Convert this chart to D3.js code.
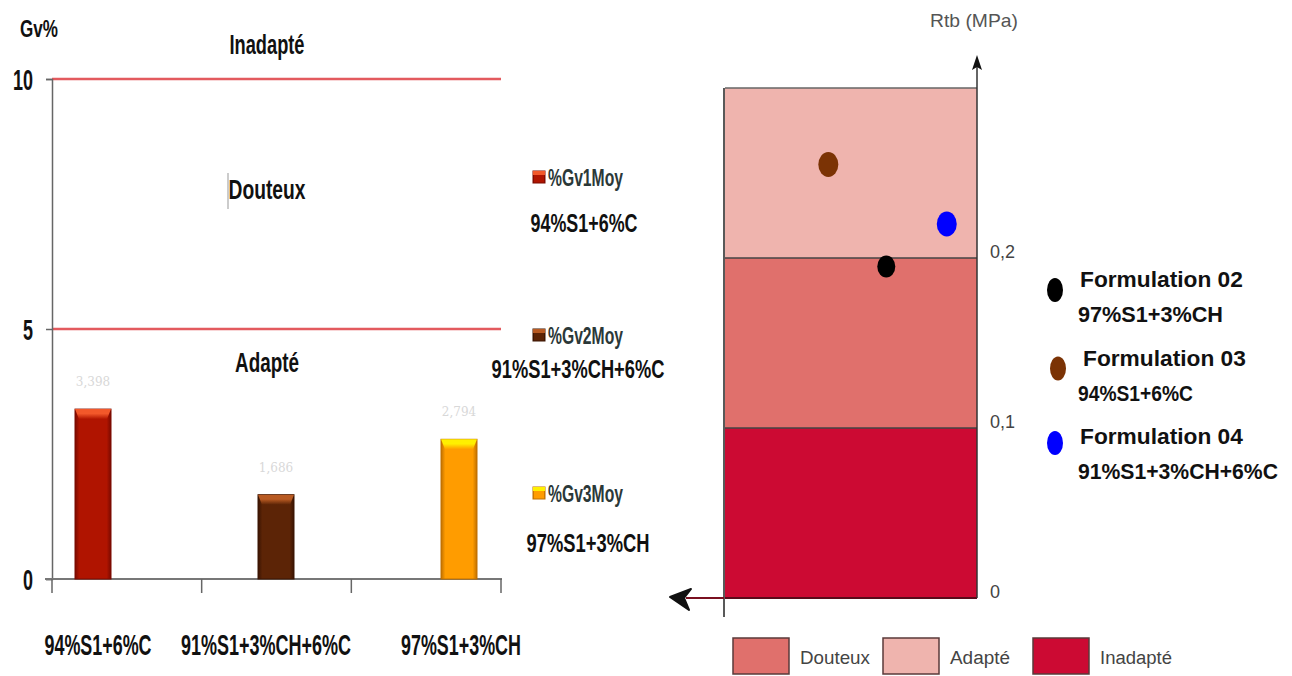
<!DOCTYPE html>
<html>
<head>
<meta charset="utf-8">
<script src="https://cdn.jsdelivr.net/npm/d3@7/dist/d3.min.js"></script>
<style>
  body { margin: 0; background: #fff; }
  svg { display: block; }
</style>
</head>
<body>
<svg id="chart" width="1292" height="676"></svg>
<script>
// ---- left chart data (Gv%) ----
var mixes = ["94%S1+6%C", "91%S1+3%CH+6%C", "97%S1+3%CH"];
var gvSeries = ["%Gv1Moy", "%Gv2Moy", "%Gv3Moy"];
var gvValues = [3.398, 1.686, 2.794];
var gvTicks = [0, 5, 10];
var gvLimits = [5, 10];
var gvZoneNames = ["Inadapté", "Douteux", "Adapté"];
var gvZoneAt = [10.7, 7.8, 4.35];

// ---- right chart data (Rtb) ----
var rtbZoneNames = ["Inadapté", "Douteux", "Adapté"];
var rtbZoneFrom = [0, 0.1, 0.2];
var rtbZoneTo = [0.1, 0.2, 0.3];
var rtbTicks = [0, 0.1, 0.2];
var formulations = ["Formulation 02", "Formulation 03", "Formulation  04"];
var formMixes = ["97%S1+3%CH", "94%S1+6%C", "91%S1+3%CH+6%C"];
var rtbValues = [0.195, 0.255, 0.220];
var rtbSpread = [0.64, 0.41, 0.88];   // horizontal place of each point inside the box
var legendOrder = ["Douteux", "Adapté", "Inadapté"];

var barMain = ["#b01400", "#5c2406", "#ff9c00"];
var barTop = ["#f2582a", "#b85a22", "#fff000"];
var barEdge = ["#7a0a00", "#3a1402", "#c07000"];
var zoneColor = { "Inadapté": "#cc0a33", "Douteux": "#e0706c", "Adapté": "#efb4ae" };
var dotColor = ["#000000", "#7b3305", "#0000ff"];

var svg = d3.select("#chart");
var defs = svg.append("defs");

// squeeze a text horizontally to a given width (the source picture is stretched)
function squeeze(sel, w) {
  sel.each(function (d, i) {
    var t = d3.select(this);
    var x = +t.attr("x") || 0, y = +t.attr("y") || 0;
    var target = typeof w === "function" ? w(d, i) : w;
    var s = target / this.getComputedTextLength();
    t.attr("x", 0).attr("y", 0)
      .attr("transform", "translate(" + x + "," + y + ") scale(" + s + ",1)");
  });
}

var font = "'Liberation Sans', Arial, sans-serif";

// ================= LEFT CHART =================
var y = d3.scaleLinear().domain([0, 10]).range([579, 79]);
var xBand = d3.scaleBand().domain(mixes).range([52, 501]);
var xBar = d3.scalePoint().domain(mixes).range([93, 459]);
var barW = 36;

var left = svg.append("g");

// limit lines
left.selectAll("line.limit")
  .data(gvLimits)
  .enter().append("line")
  .attr("class", "limit")
  .attr("x1", 52).attr("x2", 501)
  .attr("y1", d => y(d)).attr("y2", d => y(d))
  .attr("stroke", "#e35a5e")
  .attr("stroke-width", 2.5);

// y axis
var yAxis = left.append("g")
  .attr("transform", "translate(52,0)")
  .call(d3.axisLeft(y).tickValues(gvTicks).tickSize(6).tickPadding(13).tickFormat(d3.format("d")));
yAxis.select(".domain").attr("stroke", "#666").attr("stroke-width", 1.5);
yAxis.selectAll(".tick line").attr("stroke", "#666").attr("stroke-width", 1.5);
yAxis.selectAll(".tick text")
  .attr("fill", "#111")
  .style("font-family", font)
  .style("font-weight", "bold")
  .style("font-size", "29px")
  .attr("dy", null)
  .attr("y", 10)
  .attr("text-anchor", "end");
squeeze(yAxis.selectAll(".tick text"), d => d === 10 ? 20 : 10);

// x axis line and ticks at band edges
left.append("line")
  .attr("x1", 45).attr("x2", 502)
  .attr("y1", y(0)).attr("y2", y(0))
  .attr("stroke", "#777").attr("stroke-width", 2);
var edges = mixes.map(d => xBand(d)).concat([xBand.range()[1]]);
left.selectAll("line.xtick")
  .data(edges)
  .enter().append("line")
  .attr("class", "xtick")
  .attr("x1", d => d).attr("x2", d => d)
  .attr("y1", y(0)).attr("y2", y(0) + 14)
  .attr("stroke", "#666").attr("stroke-width", 1.5);

// x labels
var labW = [107, 170, 120];
squeeze(left.selectAll("text.xlab")
  .data(mixes)
  .enter().append("text")
  .attr("class", "xlab")
  .attr("x", (d, i) => xBar(d) + [5, -10, 2][i])
  .attr("y", 655)
  .attr("text-anchor", "middle")
  .style("font-family", font)
  .style("font-weight", "bold")
  .style("font-size", "30px")
  .attr("fill", "#111")
  .text(d => d), (d, i) => labW[i]);

// gradients for bars
mixes.forEach(function (m, i) {
  var gs = defs.append("linearGradient").attr("id", "side" + i)
    .attr("x1", "0").attr("x2", "1").attr("y1", "0").attr("y2", "0");
  gs.append("stop").attr("offset", "0").attr("stop-color", barEdge[i]);
  gs.append("stop").attr("offset", "0.12").attr("stop-color", barMain[i]);
  gs.append("stop").attr("offset", "0.88").attr("stop-color", barMain[i]);
  gs.append("stop").attr("offset", "1").attr("stop-color", barEdge[i]);
  var gt = defs.append("linearGradient").attr("id", "top" + i)
    .attr("x1", "0").attr("x2", "0").attr("y1", "0").attr("y2", "1");
  gt.append("stop").attr("offset", "0").attr("stop-color", barTop[i]);
  gt.append("stop").attr("offset", "0.45").attr("stop-color", barTop[i]);
  gt.append("stop").attr("offset", "1").attr("stop-color", barMain[i]);
});

var bars = left.selectAll("g.bar")
  .data(gvValues)
  .enter().append("g")
  .attr("class", "bar");

bars.append("rect")
  .attr("x", (d, i) => xBar(mixes[i]) - barW / 2)
  .attr("y", d => y(d))
  .attr("width", barW)
  .attr("height", d => y(0) - y(d))
  .attr("fill", (d, i) => "url(#side" + i + ")")
  .attr("stroke", (d, i) => barEdge[i])
  .attr("stroke-width", 1);

bars.append("path")
  .attr("d", function (d, i) {
    var x0 = xBar(mixes[i]) - barW / 2, x1 = x0 + barW, t = y(d);
    return "M" + x0 + "," + t + "L" + x1 + "," + t + "L" + (x1 - 4) + "," + (t + 10) + "L" + (x0 + 4) + "," + (t + 10) + "Z";
  })
  .attr("fill", (d, i) => "url(#top" + i + ")");

// faint value labels
bars.append("text")
  .attr("x", (d, i) => xBar(mixes[i]))
  .attr("y", d => y(d) - 23)
  .attr("text-anchor", "middle")
  .style("font-family", "'DejaVu Serif', serif")
  .style("font-size", "12px")
  .attr("fill", "#d8d8d8")
  .text(d => d3.format(".3f")(d).replace(".", ","));

// zone labels
var zoneW = [75, 77, 64];
squeeze(left.selectAll("text.zone")
  .data(gvZoneNames)
  .enter().append("text")
  .attr("class", "zone")
  .attr("x", 267)
  .attr("y", (d, i) => y(gvZoneAt[i]) + 10)
  .attr("text-anchor", "middle")
  .style("font-family", font)
  .style("font-weight", "bold")
  .style("font-size", "27px")
  .attr("fill", "#111")
  .text(d => d), (d, i) => zoneW[i]);
left.append("line")
  .attr("x1", 228).attr("x2", 228).attr("y1", 173).attr("y2", 209)
  .attr("stroke", "#999").attr("stroke-width", 1);

// Gv% title
squeeze(left.append("text")
  .attr("x", 20).attr("y", 37)
  .style("font-family", font)
  .style("font-weight", "bold")
  .style("font-size", "24px")
  .attr("fill", "#111")
  .text("Gv%"), 38);

// left legend
var legY = d3.scalePoint().domain(gvSeries).range([177, 493]);
var legSub = [222, 368, 542];
var legSubX = [584, 578, 588];
var legSubW = [107, 173, 123];
var leg = left.selectAll("g.leg")
  .data(gvSeries)
  .enter().append("g").attr("class", "leg");
leg.append("rect")
  .attr("x", 533).attr("y", d => legY(d) - 6)
  .attr("width", 12).attr("height", 12)
  .attr("fill", (d, i) => "url(#side" + i + ")")
  .attr("stroke", (d, i) => barEdge[i]);
leg.append("rect")
  .attr("x", 533).attr("y", d => legY(d) - 6)
  .attr("width", 12).attr("height", 4)
  .attr("fill", (d, i) => barTop[i]);
squeeze(leg.append("text")
  .attr("x", 548).attr("y", d => legY(d) + 9)
  .style("font-family", font)
  .style("font-weight", "bold")
  .style("font-size", "24px")
  .attr("fill", "#2b3838")
  .text(d => d), 75);
squeeze(leg.append("text")
  .attr("x", (d, i) => legSubX[i])
  .attr("y", (d, i) => legSub[i] + 10)
  .attr("text-anchor", "middle")
  .style("font-family", font)
  .style("font-weight", "bold")
  .style("font-size", "26px")
  .attr("fill", "#111")
  .text((d, i) => mixes[i]), (d, i) => legSubW[i]);

// ================= RIGHT CHART =================
var yr = d3.scaleLinear().domain([0, 0.3]).range([598, 88]);
var xr = d3.scaleLinear().domain([0, 1]).range([725, 977]);
var right = svg.append("g");

right.selectAll("rect.zone")
  .data(rtbZoneNames)
  .enter().append("rect")
  .attr("class", "zone")
  .attr("x", xr(0))
  .attr("y", (d, i) => yr(rtbZoneTo[i]))
  .attr("width", xr(1) - xr(0))
  .attr("height", (d, i) => yr(rtbZoneFrom[i]) - yr(rtbZoneTo[i]))
  .attr("fill", d => zoneColor[d]);

// zone boundaries
right.selectAll("line.bound")
  .data(rtbZoneTo)
  .enter().append("line")
  .attr("class", "bound")
  .attr("x1", xr(0)).attr("x2", xr(1))
  .attr("y1", d => yr(d)).attr("y2", d => yr(d))
  .attr("stroke", (d, i) => i === 2 ? "#666" : "#444")
  .attr("stroke-width", 1.5);
right.append("line")
  .attr("x1", xr(0)).attr("x2", xr(1))
  .attr("y1", yr(0)).attr("y2", yr(0))
  .attr("stroke", "#5a0a1a").attr("stroke-width", 2);

// left border
right.append("line")
  .attr("x1", 724).attr("x2", 724).attr("y1", yr(0.3)).attr("y2", 617)
  .attr("stroke", "#222").attr("stroke-width", 1.5);

// right axis with arrow
var yrAxis = right.append("g")
  .attr("transform", "translate(" + xr(1) + ",0)")
  .call(d3.axisRight(yr).tickValues(rtbTicks).tickSize(0).tickPadding(13)
    .tickFormat(d => d === 0 ? "0" : d3.format(".1f")(d).replace(".", ",")));
yrAxis.select(".domain").remove();
yrAxis.selectAll(".tick text")
  .attr("fill", "#444")
  .style("font-family", font)
  .style("font-size", "18px")
  .attr("dy", "-0.05em");
right.append("line")
  .attr("x1", xr(1)).attr("x2", xr(1)).attr("y1", yr(0)).attr("y2", 62)
  .attr("stroke", "#333").attr("stroke-width", 1.5);
right.append("path")
  .attr("d", "M" + xr(1) + ",55L" + (xr(1) + 5) + ",70L" + xr(1) + ",67L" + (xr(1) - 5) + ",70Z")
  .attr("fill", "#111");
squeeze(right.append("text")
  .attr("x", 930).attr("y", 27)
  .style("font-family", font)
  .style("font-size", "18px")
  .attr("fill", "#555")
  .text("Rtb (MPa)"), 88);

// bottom-left arrow
right.append("line")
  .attr("x1", 686).attr("x2", 724).attr("y1", yr(0)).attr("y2", yr(0))
  .attr("stroke", "#7a1020").attr("stroke-width", 2);
right.append("path")
  .attr("d", "M670,597L691,589L684,598L689,610Z")
  .attr("fill", "#111").attr("stroke", "#111").attr("stroke-width", 2)
  .attr("stroke-linejoin", "round");

// points
right.selectAll("ellipse.pt")
  .data(rtbValues)
  .enter().append("ellipse")
  .attr("class", "pt")
  .attr("cx", (d, i) => xr(rtbSpread[i]))
  .attr("cy", d => yr(d))
  .attr("rx", (d, i) => i === 0 ? 9 : 10)
  .attr("ry", (d, i) => i === 0 ? 11 : 12.5)
  .attr("fill", (d, i) => dotColor[i]);

// right legend
var fy = d3.scalePoint().domain(formulations).range([278, 435]);
var subW = [145, 115, 200];
var fLeg = right.selectAll("g.fleg")
  .data(formulations)
  .enter().append("g").attr("class", "fleg");
fLeg.append("ellipse")
  .attr("cx", (d, i) => i === 1 ? 1058 : 1055)
  .attr("cy", (d, i) => fy(d) + [12, 12, 8][i])
  .attr("rx", 8).attr("ry", 12)
  .attr("fill", (d, i) => dotColor[i]);
squeeze(fLeg.append("text")
  .attr("x", (d, i) => i === 1 ? 1083 : 1080)
  .attr("y", d => fy(d) + 9)
  .style("font-family", font)
  .style("font-weight", "bold")
  .style("font-size", "22px")
  .attr("fill", "#111")
  .text(d => d), 163);
squeeze(fLeg.append("text")
  .attr("x", 1078)
  .attr("y", d => fy(d) + 44)
  .style("font-family", font)
  .style("font-weight", "bold")
  .style("font-size", "22px")
  .attr("fill", "#111")
  .text((d, i) => formMixes[i]), (d, i) => subW[i]);

// bottom legend
var lx = d3.scalePoint().domain(legendOrder).range([733, 1033]);
var legTextW = [70, 60, 72];
var lLeg = right.selectAll("g.lleg")
  .data(legendOrder)
  .enter().append("g").attr("class", "lleg");
lLeg.append("rect")
  .attr("x", d => lx(d)).attr("y", 638)
  .attr("width", 56).attr("height", 36)
  .attr("fill", d => zoneColor[d])
  .attr("stroke", "#5a3a3a").attr("stroke-width", 1.5);
squeeze(lLeg.append("text")
  .attr("x", d => lx(d) + 67).attr("y", 664)
  .style("font-family", font)
  .style("font-size", "19px")
  .attr("fill", "#444")
  .text(d => d), (d, i) => legTextW[i]);
</script>
</body>
</html>
